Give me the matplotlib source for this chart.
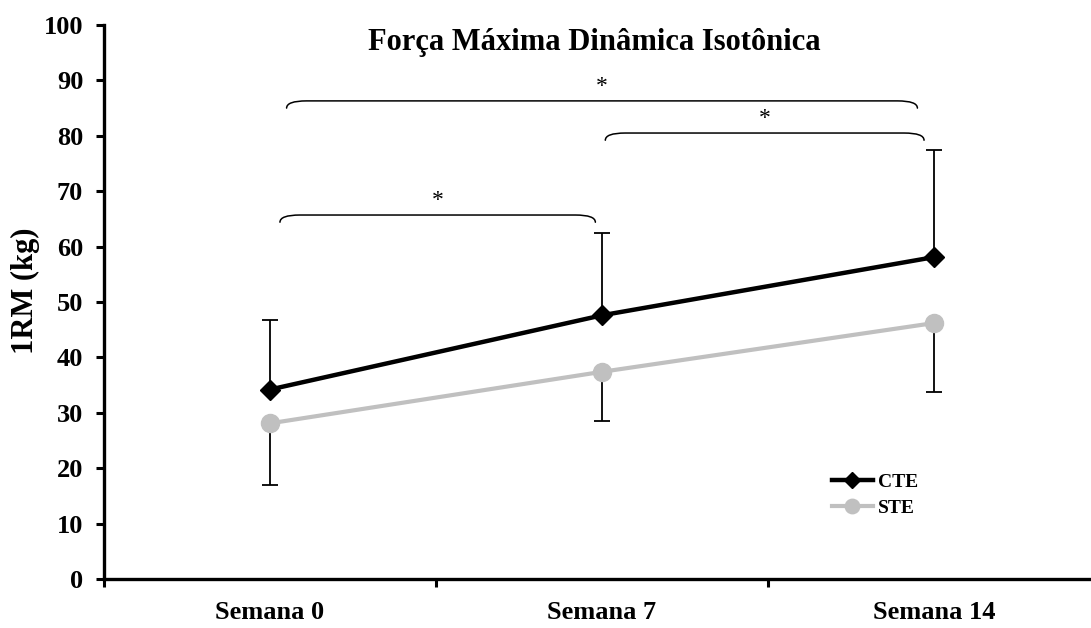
import matplotlib
matplotlib.use("Agg")
import matplotlib.pyplot as plt
from matplotlib.path import Path
from matplotlib.patches import PathPatch

plt.rcParams['font.family'] = ['Liberation Serif', 'DejaVu Serif']

# semanas avaliadas
semanas = ["Semana 0", "Semana 7", "Semana 14"]

# 1RM medio e desvio padrao (kg)
cte_media = [34.2, 47.6, 58.1]
cte_dp = [12.5, 14.8, 19.4]
ste_media = [28.1, 37.4, 46.2]
ste_dp = [11.1, 8.9, 12.4]

# comparacoes significativas: (inicio, fim, altura da chave)
comparacoes = [(0.03, 0.98, 65.7), (1.01, 1.97, 80.5), (0.05, 1.95, 86.3)]


def chave(ax, x0, x1, y, dx=0.06, dy=1.3):
    verts = [(x0, y - dy), (x0, y), (x0 + dx, y),
             (x1 - dx, y),
             (x1, y), (x1, y - dy)]
    codes = [Path.MOVETO, Path.CURVE3, Path.CURVE3,
             Path.LINETO,
             Path.CURVE3, Path.CURVE3]
    ax.add_patch(PathPatch(Path(verts, codes), fill=False, lw=1.1,
                           edgecolor='black', capstyle='round'))
    ax.text((x0 + x1) / 2, y + 2.6, "*", ha='center', va='center',
            fontsize=17, family='Liberation Serif')


fig = plt.figure(figsize=(10.91, 6.28), dpi=100)
ax = fig.add_axes([104 / 1091, 49 / 628, 996 / 1091, 554 / 628])

x = list(range(len(semanas)))

ax.errorbar(x, cte_media, yerr=[[0] * 3, cte_dp], fmt='none', ecolor='black',
            elinewidth=1.3, capsize=6, capthick=1.3, zorder=2)
ax.errorbar(x, ste_media, yerr=[ste_dp, [0] * 3], fmt='none', ecolor='black',
            elinewidth=1.3, capsize=6, capthick=1.3, zorder=2)

ax.plot(x, ste_media, color='#c0c0c0', lw=3.0, marker='o', markersize=13,
        label='STE', zorder=3)
ax.plot(x, cte_media, color='black', lw=3.2, marker='D', markersize=10,
        label='CTE', zorder=4)

for x0, x1, y in comparacoes:
    chave(ax, x0, x1, y)

ax.text(0.976, 96.8, "Força Máxima Dinâmica Isotônica", ha='center', va='center',
        fontsize=22, fontweight='bold')

ax.set_xlim(-0.5, 2.5)
ax.set_ylim(0, 100)
ax.set_yticks(range(0, 101, 10))
ax.set_xticks([-0.5, 0.5, 1.5, 2.5])
ax.set_xticklabels([])
ax.set_xticks(x, minor=True)
ax.set_xticklabels(semanas, minor=True, fontsize=19, fontweight='bold')
ax.tick_params(axis='x', which='minor', length=0, pad=16)
ax.tick_params(axis='both', which='major', direction='out', length=6,
               width=2.2, labelsize=19)
ax.tick_params(axis='y', pad=9)
for lab in ax.get_yticklabels():
    lab.set_fontweight('bold')

ax.set_ylabel("1RM (kg)", fontsize=22, fontweight='bold')
ax.yaxis.set_label_coords(-0.064, 0.52)

for s in ['top', 'right']:
    ax.spines[s].set_visible(False)
for s in ['left', 'bottom']:
    ax.spines[s].set_linewidth(2.4)

h, l = ax.get_legend_handles_labels()
leg = ax.legend(h[::-1], l[::-1], loc='center left',
                bbox_to_anchor=(832 / 1091, 1 - 495 / 628),
                bbox_transform=fig.transFigure, frameon=False,
                borderpad=0, borderaxespad=0, handlelength=2.1,
                handletextpad=0.25, labelspacing=0.45, markerscale=0.8,
                prop={'weight': 'bold', 'size': 14})

fig.savefig("out.png", dpi=100)
